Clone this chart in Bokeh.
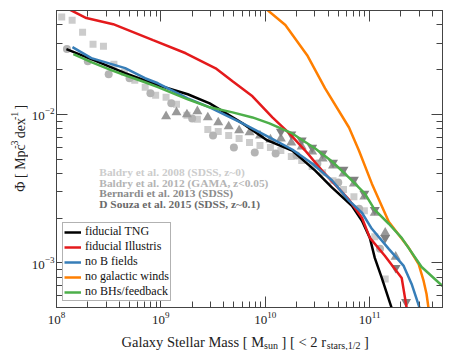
import numpy as np
from bokeh.plotting import figure
from bokeh.layouts import column, row
from bokeh.models import LogAxis, FixedTicker, Label, ColumnDataSource, CustomJSTickFormatter, Range1d
from bokeh.core.properties import value
from bokeh.embed import file_html
from bokeh.resources import INLINE

# ---------------- simulation curves: log10(M*/Msun), log10(Phi / Mpc^-3 dex^-1)
tng_logm = [8.095, 8.334, 8.658, 8.972, 9.258, 9.468, 9.783, 10.021, 10.259, 10.479, 10.641, 10.831, 10.927, 11.003, 11.050, 11.117, 11.212]
tng_logphi = [-1.561, -1.629, -1.723, -1.804, -1.865, -1.926, -2.061, -2.176, -2.244, -2.379, -2.494, -2.616, -2.717, -2.832, -2.967, -3.102, -3.305]

ill_logm = [8.095, 8.286, 8.543, 8.925, 9.239, 9.525, 9.687, 9.878, 10.069, 10.231, 10.383, 10.545, 10.803, 10.927, 11.003, 11.146, 11.308, 11.356]
ill_logphi = [-1.284, -1.352, -1.393, -1.501, -1.589, -1.690, -1.778, -1.879, -2.021, -2.129, -2.244, -2.379, -2.575, -2.697, -2.832, -2.953, -3.102, -3.305]

nob_logm = [8.153, 8.334, 8.658, 8.848, 8.972, 9.258, 9.468, 9.783, 10.040, 10.259, 10.450, 10.641, 10.803, 10.927, 11.022, 11.184, 11.327, 11.403, 11.480]
nob_logphi = [-1.548, -1.622, -1.689, -1.757, -1.791, -1.893, -1.953, -2.061, -2.155, -2.237, -2.331, -2.446, -2.581, -2.663, -2.771, -2.906, -3.021, -3.142, -3.305]

nowind_logm = [9.783, 10.021, 10.193, 10.402, 10.574, 10.803, 10.898, 11.022, 11.184, 11.375, 11.470, 11.518, 11.546, 11.565]
nowind_logphi = [-1.156, -1.298, -1.399, -1.602, -1.825, -2.089, -2.244, -2.467, -2.724, -2.899, -3.008, -3.122, -3.210, -3.305]

nobh_logm = [8.162, 8.334, 8.524, 8.658, 8.848, 8.972, 9.258, 9.468, 9.687, 9.878, 10.040, 10.259, 10.479, 10.641, 10.803, 10.955, 11.050, 11.184, 11.308, 11.499, 11.699]
nobh_logphi = [-1.595, -1.649, -1.703, -1.737, -1.784, -1.817, -1.899, -1.953, -1.987, -2.021, -2.061, -2.129, -2.230, -2.318, -2.426, -2.534, -2.643, -2.737, -2.832, -3.028, -3.156]

# ---------------- observations
b08_logm = [8.05, 8.15, 8.25, 8.35, 8.45, 8.55, 8.65, 8.75, 8.85, 8.95, 9.05, 9.15, 9.25, 9.35, 9.45, 9.55,
            9.65, 9.75, 9.85, 9.95, 10.05, 10.15, 10.25, 10.35, 10.45, 10.55, 10.65, 10.75, 10.85, 10.95, 11.05, 11.15]
b08_logphi = [-1.345, -1.366, -1.447, -1.528, -1.541, -1.663, -1.717, -1.771, -1.818, -1.872, -1.886, -1.933, -2.007, -2.034, -2.102, -2.116,
              -2.143, -2.163, -2.190, -2.210, -2.224, -2.244, -2.284, -2.311, -2.352, -2.393, -2.447, -2.507, -2.555, -2.649, -2.825, -3.109]

b12_logm = [8.1, 8.3, 8.5, 8.7, 8.9, 9.1, 9.3, 9.5, 9.7, 9.9, 10.1, 10.3, 10.5, 10.7, 10.9, 11.1]
b12_logphi = [-1.561, -1.643, -1.730, -1.757, -1.858, -1.926, -2.028, -2.143, -2.224, -2.257, -2.264, -2.278, -2.332, -2.460, -2.636, -2.906]

b13_logm = [9.05, 9.15, 9.25, 9.35, 9.45, 9.55, 9.65, 9.75, 9.85, 9.95, 10.05, 10.15, 10.25, 10.35, 10.45, 10.55,
            10.65, 10.75, 10.85, 10.95, 11.05, 11.15, 11.25]
b13_logphi = [-2.014, -1.987, -2.001, -1.980, -2.021, -2.055, -2.082, -2.109, -2.122, -2.143, -2.170, -2.163, -2.190, -2.217, -2.251, -2.298,
              -2.345, -2.399, -2.467, -2.555, -2.663, -2.798, -2.960]

d15_logm = [10.15, 10.25, 10.35, 10.45, 10.55, 10.65, 10.75, 10.85, 10.95, 11.05, 11.15, 11.25, 11.35]
d15_logphi = [-2.116, -2.136, -2.176, -2.224, -2.264, -2.325, -2.372, -2.440, -2.534, -2.643, -2.832, -3.034, -3.264]

obs_labels = ["Baldry et al. 2008 (SDSS, z~0)", "Baldry et al. 2012 (GAMA, z<0.05)",
              "Bernardi et al. 2013 (SDSS)", "D Souza et al. 2015 (SDSS, z~0.1)"]
obs_colors = ["#cccccc", "#b4b4b4", "#8c8c8c", "#6a6a6a"]
obs_label_logm = 8.41
obs_label_logphi = [-2.389, -2.460, -2.531, -2.602]

sim_names = ["fiducial TNG", "fiducial Illustris", "no B fields", "no galactic winds", "no BHs/feedback"]
sim_colors = ["#000000", "#e41a1c", "#377eb8", "#ff7f00", "#4daf4a"]

x_major = [1e8, 1e9, 1e10, 1e11]
y_major = [1e-3, 1e-2]

SERIF = "Liberation Serif"
AX = "#444444"
TXT = "#222222"


def p10(a):
    return [10.0 ** v for v in a]


p = figure(width=424, height=331, x_axis_type="log", y_axis_type="log",
           x_range=(1e8, 5e11), y_range=(5e-4, 5e-2),
           output_backend="svg", toolbar_location=None,
           min_border_left=25, min_border_right=10, min_border_top=10, min_border_bottom=24)
p.xgrid.visible = False
p.ygrid.visible = False
p.outline_line_color = AX
p.outline_line_width = 1

xminor = [m * 10.0 ** e for e in range(8, 12) for m in range(2, 10) if m * 10.0 ** e <= 5e11]
yminor = [m * 10.0 ** e for e in range(-4, -1) for m in range(2, 10) if 5e-4 <= m * 10.0 ** e <= 5e-2]


def style_axis(ax, ticks, minor, labels=True):
    ax.ticker = FixedTicker(ticks=ticks, minor_ticks=minor)
    ax.axis_line_color = AX
    ax.major_tick_line_color = AX
    ax.minor_tick_line_color = AX
    ax.major_tick_in = 11
    ax.major_tick_out = 0
    ax.minor_tick_in = 6
    ax.minor_tick_out = 0
    ax.axis_label = None
    if labels:
        ax.major_label_text_font = SERIF
        ax.major_label_text_font_size = "13px"
        ax.major_label_text_color = TXT
    else:
        ax.formatter = CustomJSTickFormatter(code="return ''")
        ax.major_label_text_font_size = "0px"
        ax.major_label_standoff = 0


style_axis(p.xaxis[0], x_major, xminor)
p.xaxis[0].major_label_standoff = 4
style_axis(p.yaxis[0], y_major, yminor)
p.yaxis[0].major_label_standoff = 2

top = LogAxis()
style_axis(top, x_major, xminor, labels=False)
p.add_layout(top, "above")
right = LogAxis()
style_axis(right, y_major, yminor, labels=False)
p.add_layout(right, "right")

# observations (under the lines)
p.scatter(p10(b08_logm), p10(b08_logphi), marker="square", size=7, color="#cccccc", line_color=None)
p.scatter(p10(b12_logm), p10(b12_logphi), marker="circle", size=8, color="#b4b4b4", line_color=None)
p.scatter(p10(b13_logm), p10(b13_logphi), marker="triangle", size=10, color="#999999", line_color=None)
p.scatter(p10(d15_logm), p10(d15_logphi), marker="inverted_triangle", size=10, color="#808080", line_color=None)

sims = [(tng_logm, tng_logphi), (ill_logm, ill_logphi), (nob_logm, nob_logphi),
        (nowind_logm, nowind_logphi), (nobh_logm, nobh_logphi)]
for (lm, lp), name, col in zip(sims, sim_names, sim_colors):
    p.line(p10(lm), p10(lp), line_color=col, line_width=2.5, legend_label=name)

leg = p.legend[0]
leg.location = "bottom_left"
leg.margin = 6
leg.padding = 1
leg.spacing = 0
leg.glyph_width = 17
leg.glyph_height = 12
leg.label_height = 12
leg.label_standoff = 4
leg.label_text_font = SERIF
leg.label_text_font_size = "12px"
leg.label_text_color = "#111111"
leg.border_line_color = "#666666"
leg.border_line_width = 1
leg.background_fill_alpha = 1.0

src = ColumnDataSource(dict(x=[10.0 ** obs_label_logm] * 4, y=p10(obs_label_logphi),
                            text=obs_labels, color=obs_colors))
p.text(x="x", y="y", text="text", text_color="color", source=src,
       text_font=value(SERIF), text_font_size=value("11.4px"), text_font_style="bold",
       text_baseline="middle", text_align="left")


def label_fig(w, h):
    f = figure(width=w, height=h, x_range=Range1d(0, w), y_range=Range1d(0, h),
               x_axis_location=None, y_axis_location=None,
               output_backend="svg", toolbar_location=None, min_border=0)
    f.outline_line_color = None
    f.xgrid.visible = False
    f.ygrid.visible = False
    return f


# y-axis label strip (rotated pieces with superscripts)
yfig = label_fig(28, 331)
for txt, xx, yy, fs in [("\u03a6 [ Mpc", 19.5, 129, "14px"),
                        ("-3", 14, 176.9, "10px"),
                        ("dex", 19.5, 188.7, "14px"),
                        ("-1", 14, 208.9, "10px"),
                        ("]", 19.5, 220.7, "14px")]:
    yfig.add_layout(Label(x=xx, y=yy, text=txt, text_font=SERIF, text_font_size=fs,
                          text_color=TXT, text_align="left", text_baseline="alphabetic",
                          angle=90, angle_units="deg"))

# x-axis label strip (pieces with subscripts)
xfig = label_fig(452, 19)
for txt, xx, yy, fs in [("Galaxy Stellar Mass [ M", 121, 8.3, "14.5px"),
                        ("sun", 263.6, 5, "10px"),
                        ("] [ < 2 r", 281.1, 8.3, "14.5px"),
                        ("stars,1/2", 326.3, 5, "10px"),
                        ("]", 363.5, 8.3, "14.5px")]:
    xfig.add_layout(Label(x=xx, y=yy, text=txt, text_font=SERIF, text_font_size=fs,
                          text_color=TXT, text_align="left", text_baseline="alphabetic"))

layout = column(row(yfig, p, spacing=0), xfig, spacing=0)

open("out.html", "w").write(file_html(layout, INLINE))
